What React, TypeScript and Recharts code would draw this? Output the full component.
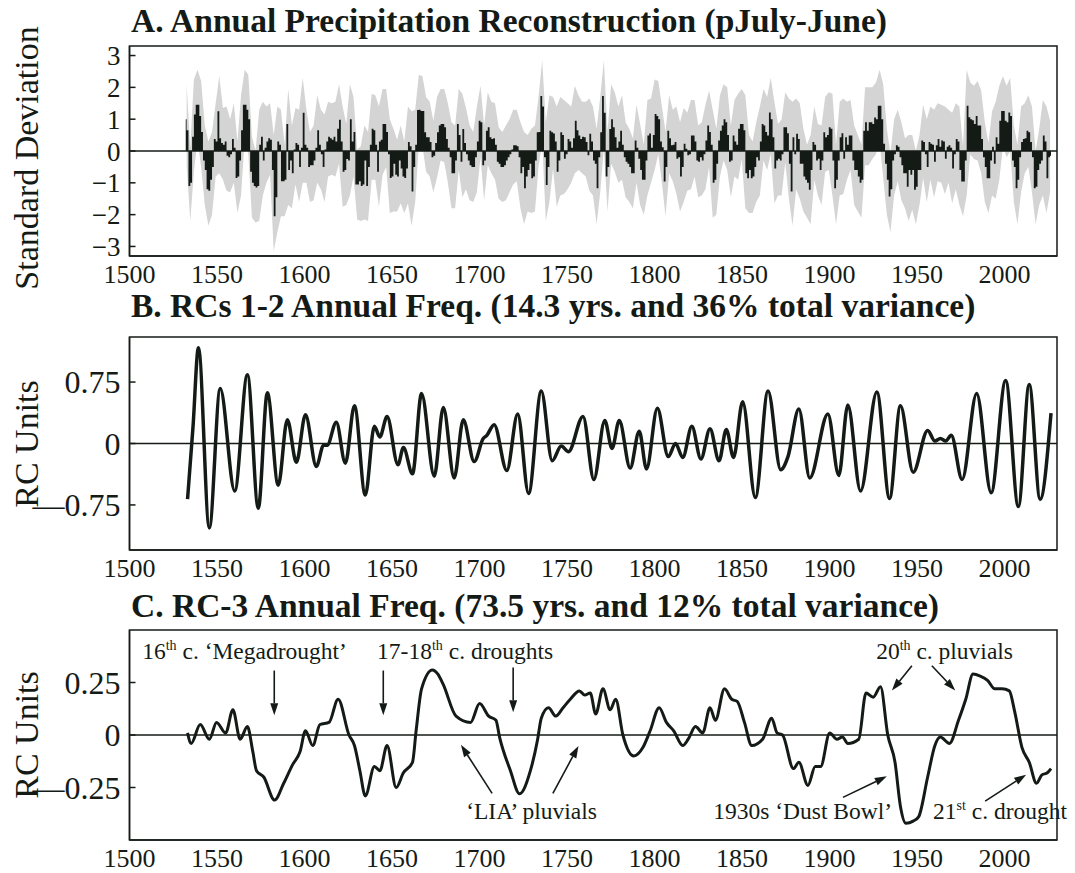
import React from 'react';
import {
  ComposedChart,
  LineChart,
  Line,
  Area,
  XAxis,
  YAxis,
  ReferenceLine,
  ReferenceArea,
  ReferenceDot,
} from 'recharts';

const INK = '#141b16';
const BAND = '#d4d4d4';
const FONT = '"Liberation Serif", "Times New Roman", serif';

const YEAR_TICKS = [1500, 1550, 1600, 1650, 1700, 1750, 1800, 1850, 1900, 1950, 2000];
// the series are drawn on this axis
const X_DOMAIN = [1500, 2011.3];
// the printed year labels sit on a slightly tighter spacing than the ticks
const LABEL_DOMAIN = [1500, 2030];

// Panel A: annual reconstruction, one value per year starting 1531
const PRECIP_START = 1531;
const PRECIP = [
  1.0, 0.65, -1.1, -1.0, 0.45, 1.15, 1.45, 1.45, 1.1, 0.6,
  -0.3, -0.6, -1.2, -1.25, -0.9, -0.5, 0.38, 0.3, 1.25, 0.4,
  0.25, 0.2, 0.3, -0.15, -0.2, -0.1, 0.38, 0.1, -0.85, -0.8,
  -0.3, 0.65, 1.45, 1.45, 1.3, 1.0, -0.65, -1.0, -1.1, -1.15,
  -1.1, 0.2, 0.45, -0.3, 0.1, 0.3, 0.4, 0.35, -0.6, -2.05,
  -1.45, 0.3, 0.2, -0.95, -0.95, -0.9, 0.85, -0.6, -0.3, -0.7,
  0.05, 0.25, 0.2, -0.5, 0.1, 1.2, 0.2, 0.1, -0.5, -0.45,
  -0.45, -0.3, 0.1, 0.65, 0.2, -0.1, -0.5, 0.05, 0.3, 0.45,
  0.4, 0.35, 0.45, 0.3, 0.7, 0.98, 0.3, -0.65, -0.6, -0.25,
  -0.3, 1.0, 0.3, 0.6, -1.05, -1.05, -0.95, -1.1, -1.05, -0.3,
  -1.1, -0.5, 0.2, 0.7, 0.65, 0.2, -0.65, 0.3, 0.35, 0.85,
  0.85, 0.6, -0.1, -0.85, -0.8, -0.4, -0.75, -0.8, -0.3, -0.55,
  -0.8, -0.85, -0.55, 0.28, 0.15, -1.27, -0.5, 0.2, 1.29, 1.3,
  1.26, 1.26, 0.59, 0.43, 0.43, 0.28, -0.2, -0.15, 0.25, 0.59,
  0.8, 0.85, 0.85, 0.75, 0.38, 0.1, -0.2, -0.7, -0.7, -0.3,
  0.85, 0.5, -0.34, 0.69, 0.25, -0.1, -0.3, -0.45, -0.5, -0.5,
  -0.2, 0.3, 0.95, 0.9, -0.45, -0.3, 0.64, 0.75, 0.43, 0.38,
  0.4, 0.2, -0.34, -0.4, -0.5, -0.5, -0.45, -0.3, -0.2, -0.1,
  0.05, 0.18, 0.18, 0.15, -0.2, -0.7, -0.5, -1.17, -0.8, -0.6,
  -0.4, -0.86, -0.8, -0.3, 0.59, 0.6, 1.73, 1.4, -0.2, -1.07,
  -0.5, 0.64, 0.59, 0.55, 0.3, -0.65, -0.3, 0.59, 0.5, -0.24,
  -0.1, 0.38, 0.3, 0.1, 0.4, 0.95, 0.65, 0.49, 0.38, 0.45,
  0.43, 0.28, -0.13, 0.54, 0.3, -0.3, -0.4, -1.17, -0.2, 0.59,
  1.73, 1.2, -0.8, -0.5, 0.69, 1.0, 0.75, 0.43, 0.1, 0.3,
  0.64, 0.2, -0.2, -0.34, -0.4, -0.5, -0.7, -0.7, 0.33, 0.1,
  -0.24, -0.6, -0.9, -0.9, -0.3, 0.49, 0.55, 0.1, 0.5, 1.16,
  1.1, 1.0, 0.3, 0.12, -0.96, -0.5, 0.64, 0.4, 0.18, 0.2,
  0.28, -0.24, -0.2, -0.8, -0.5, 0.23, 0.07, -0.13, -0.1, 0.49,
  0.49, 0.3, -0.3, -0.34, -0.2, -0.3, -0.1, 0.33, 0.8, 0.6,
  0.2, -1.0, -0.9, -0.4, 0.33, 0.64, 0.8, 1.0, 0.9, 0.5,
  -0.34, -0.3, 0.49, 0.3, 0.2, 0.7, 0.85, 0.85, 0.65, -0.7,
  -0.86, -0.6, -0.86, -0.8, -0.5, -0.2, -0.3, 0.3, 0.85, 0.8,
  0.6, 0.49, 1.21, 1.0, 0.43, -0.55, -0.3, -0.24, -0.3, -0.1,
  0.75, 0.75, 0.56, -0.4, -1.27, 0.43, -0.1, 0.54, 0.38, -0.4,
  -0.4, -0.8, -0.9, -1.0, -1.22, -0.6, 0.28, 0.2, -0.3, -0.24,
  -0.6, -0.3, 0.59, 0.43, 0.5, 0.75, 0.7, -0.3, -1.17, -0.9,
  -0.3, 0.43, 0.56, -0.24, 0.43, 0.2, 0.49, 0.49, -0.3, -0.6,
  -0.6, -0.8, -1.0, -0.9, 0.64, 0.9, 0.64, 0.9, 0.9, 0.85,
  1.05, 1.0, 1.42, 1.42, 1.0, 0.23, -0.4, -0.9, -1.43, -1.2,
  -0.3, -0.1, 0.18, 0.13, -0.2, -0.45, -0.7, -0.7, -1.12, -0.6,
  -0.75, -0.6, -1.22, -1.12, -0.6, -0.6, 0.33, 0.28, -0.1, -0.5,
  0.28, 0.23, 0.2, -0.34, 0.18, 0.38, 0.13, 0.33, 0.3, -0.24,
  0.13, 0.18, 0.1, -0.55, -0.1, 0.38, 0.3, -0.6, -0.96, -0.96,
  -0.3, 1.42, 1.06, 1.0, 0.97, 0.85, 1.1, 0.8, 0.8, 0.38,
  -0.2, -0.5, -0.86, -0.86, -0.3, 0.13, -0.4, 0.43, 0.23, 0.95,
  1.26, 1.26, 0.95, 0.9, 1.21, 1.1, -0.3, -0.5, -1.17, -0.9,
  -0.2, 0.28, 0.38, 0.4, 0.64, 0.59, 0.28, -0.2, -1.17, -1.12,
  -0.6, -0.4, -0.3, 0.49, 0.3, -0.86, -0.2, -0.15,
];

// Panel A: grey uncertainty band, read every two years starting 1531.5
const BAND_START = 1531.5;
const BAND_HI = [
  2.1, 0.1, 2.25, 2.55, 2.2, 0.8, 0.3, 0.6, 1.5, 2.35,
  1.35, 1.4, 1.0, 1.5, 0.3, 1.75, 2.55, 2.4, 0.45, 0.0,
  1.3, 1.55, 1.4, 1.5, 0.5, 1.4, 1.3, 0.2, 1.95, 0.8,
  1.35, 1.3, 2.3, 1.3, 0.6, 0.8, 1.75, 1.3, 1.15, 1.55,
  1.5, 1.55, 2.1, 1.4, 0.85, 2.1, 1.7, 0.05, 0.15, 0.8,
  0.6, 1.8, 1.75, 1.4, 1.95, 1.95, 1.0, 0.7, 0.35, 0.8,
  0.3, 1.4, 1.25, 1.3, 2.4, 2.35, 1.7, 1.55, 0.95, 1.7,
  1.95, 1.95, 1.5, 0.9, 0.8, 1.95, 1.8, 1.35, 0.8, 0.6,
  1.4, 2.05, 0.8, 1.85, 1.55, 1.5, 0.75, 0.6, 0.8, 1.0,
  1.3, 1.3, 0.9, 0.6, 0.5, 0.7, 0.8, 1.7, 2.85, 0.9,
  1.75, 1.7, 1.4, 1.7, 1.6, 1.5, 1.4, 2.05, 1.75, 1.55,
  1.55, 1.65, 1.4, 0.7, 1.7, 2.85, 0.6, 2.1, 1.85, 1.4,
  1.75, 0.9, 0.7, 0.4, 1.45, 0.85, 0.2, 1.6, 1.65, 2.25,
  2.2, 1.4, 0.6, 1.75, 1.3, 1.4, 0.9, 1.35, 1.2, 1.6,
  1.6, 0.8, 0.9, 1.45, 1.9, 1.3, 0.7, 1.75, 2.1, 2.0,
  0.8, 1.6, 1.8, 1.95, 1.75, 0.5, 0.3, 0.9, 1.4, 1.95,
  1.7, 2.3, 1.55, 0.85, 1.0, 1.85, 1.65, 1.55, 1.65, 1.5,
  0.7, 0.2, 0.5, 1.4, 0.85, 0.8, 1.7, 1.85, 1.8, 0.2,
  1.55, 1.65, 1.55, 1.6, 0.8, 0.5, 0.2, 2.0, 2.0, 2.0,
  2.15, 2.55, 2.1, 0.7, -0.1, 1.0, 1.3, 0.9, 0.4, 0.5,
  0.5, 0.0, 0.5, 1.45, 1.0, 1.4, 1.3, 1.5, 1.45, 1.4,
  1.3, 1.2, 1.5, 1.4, 0.15, 2.55, 2.15, 2.05, 2.2, 1.9,
  0.9, 0.25, 1.25, 1.55, 2.05, 2.35, 2.05, 2.3, 0.8, 0.2,
  1.4, 1.5, 1.75, 1.4, 0.0, 0.7, 1.6, 1.4, 0.95,
];
const BAND_LO = [
  -0.45, -2.2, -0.65, 0.35, -0.5, -1.7, -2.35, -2.0, -0.8, -0.7,
  -0.9, -1.25, -1.3, -1.0, -1.95, -1.4, 0.35, -0.1, -2.1, -2.25,
  -2.2, -1.4, -1.0, -0.75, -3.15, -2.55, -2.05, -2.05, -1.7, -1.8,
  -1.05, -1.6, -1.0, -1.0, -1.6, -1.55, -1.0, -1.2, -1.6, -0.8,
  -0.75, -0.8, -0.4, -1.75, -1.7, -1.4, -0.8, -2.15, -2.2, -2.15,
  -2.2, -0.9, -0.9, -1.75, -0.75, -0.5, -1.95, -1.9, -1.9, -1.65,
  -1.95, -1.65, -2.35, -1.6, 0.2, 0.15, -0.65, -0.8, -1.3, -0.85,
  -0.3, -0.35, -1.0, -1.8, -1.8, -0.6, -1.45, -1.2, -1.55, -1.6,
  -1.3, -0.2, -1.55, -0.45, -0.7, -0.9, -1.5, -1.6, -1.55, -1.3,
  -1.05, -0.95, -1.8, -2.3, -1.9, -1.95, -1.9, -0.5, 0.3, -2.2,
  -1.6, -0.55, -1.75, -1.4, -1.35, -1.2, -1.0, -0.7, -0.6, -0.7,
  -0.8, -1.25, -1.4, -2.3, -1.3, 0.1, -1.9, -0.4, -0.65, -1.0,
  -0.9, -1.45, -1.6, -1.8, -1.0, -1.7, -2.0, -1.4, -1.0, -0.6,
  -0.1, -1.0, -2.05, -0.7, -0.95, -1.35, -1.9, -1.6, -1.25, -1.2,
  -0.8, -1.45, -1.4, -1.2, -0.5, -2.1, -2.0, -0.8, -0.3, -0.6,
  -1.45, -0.8, -0.9, -0.25, -1.8, -1.95, -1.95, -1.6, -1.4, -0.3,
  -0.6, -0.1, -1.65, -1.4, -1.4, -0.35, -1.5, -2.35, -1.2, -1.5,
  -1.9, -2.1, -2.3, -0.9, -1.4, -1.7, -0.65, -0.6, -1.4, -2.3,
  -1.4, -1.35, -0.9, -0.6, -1.7, -1.9, -2.1, -0.45, -0.45, -0.25,
  -0.1, 0.3, -0.85, -2.0, -2.55, -1.4, -0.95, -1.55, -1.8, -2.2,
  -1.85, -2.3, -1.7, -0.85, -1.6, -0.9, -1.45, -0.95, -1.0, -1.35,
  -1.0, -1.65, -1.2, -1.7, -2.05, -1.4, -0.1, -0.25, -0.3, -0.7,
  -1.6, -1.95, -1.4, -1.5, -0.9, 0.15, -0.2, 0.0, -1.6, -2.3,
  -1.3, -0.7, -0.5, -1.3, -2.3, -1.7, -1.4, -1.95, -1.3,
];

// Panel B: RCs 1-2, turning points
const RC12_YEARS = [
  1532, 1535, 1538, 1544, 1550, 1558, 1565, 1571, 1576, 1582,
  1587, 1592, 1597, 1603, 1607, 1609, 1614, 1619, 1624, 1630,
  1635, 1638, 1642, 1648, 1651, 1656, 1661, 1668, 1673, 1679,
  1684, 1690, 1695, 1697, 1701, 1708, 1714, 1720, 1727, 1733,
  1738, 1742, 1750, 1756, 1762, 1766, 1770, 1776, 1781, 1785,
  1791, 1797, 1801, 1805, 1810, 1815, 1820, 1825, 1829, 1833,
  1838, 1845, 1852, 1859, 1863, 1869, 1875, 1885, 1891, 1896,
  1903, 1912, 1919, 1925, 1932, 1940, 1944, 1947, 1950, 1953,
  1959, 1967, 1975, 1983, 1990, 1996, 2002, 2008,
];
const RC12_VALUES = [
  -0.68, 0.2, 1.17, -1.03, 0.67, -0.58, 0.84, -0.79, 0.62, -0.51,
  0.29, -0.23, 0.35, -0.28, -0.02, -0.02, 0.26, -0.24, 0.46, -0.63,
  0.21, 0.08, 0.33, -0.26, -0.05, -0.37, 0.61, -0.4, 0.44, -0.42,
  0.29, -0.22, 0.06, 0.1, 0.23, -0.33, 0.36, -0.61, 0.64, -0.21,
  -0.03, -0.1, 0.33, -0.44, 0.28, -0.06, 0.28, -0.3, 0.15, -0.31,
  0.43, -0.16, 0.0, -0.17, 0.21, -0.19, 0.18, -0.21, 0.17, -0.17,
  0.51, -0.66, 0.64, -0.32, -0.16, 0.42, -0.42, 0.36, -0.39, 0.47,
  -0.58, 0.63, -0.67, 0.46, -0.35, 0.16, 0.03, 0.06, 0.03, 0.1,
  -0.44, 0.61, -0.6, 0.77, -0.77, 0.72, -0.68, 0.37,
];

// Panel C: RC-3
const RC3_YEARS = [
  1532, 1534, 1539, 1544, 1548, 1553, 1557, 1561, 1565, 1568,
  1570, 1574, 1580, 1585, 1590, 1594, 1597, 1601, 1605, 1610,
  1615, 1621, 1624, 1627, 1630, 1635, 1638, 1642, 1647, 1651,
  1656, 1658, 1661, 1667, 1670, 1673, 1680, 1688, 1693, 1698,
  1702, 1704, 1710, 1715, 1721, 1725, 1727, 1731, 1735, 1739,
  1743, 1748, 1751, 1754, 1757, 1761, 1765, 1768, 1772, 1778,
  1783, 1787, 1792, 1796, 1800, 1805, 1808, 1812, 1816, 1820,
  1823, 1828, 1832, 1835, 1839, 1843, 1849, 1854, 1857, 1860,
  1866, 1869, 1874, 1878, 1881, 1886, 1890, 1893, 1896, 1902,
  1906, 1910, 1914, 1918, 1922, 1925, 1928, 1932, 1935, 1940,
  1944, 1947, 1952, 1957, 1961, 1965, 1969, 1973, 1977, 1981,
  1985, 1988, 1992, 1996, 2000, 2003, 2006, 2008,
];
const RC3_VALUES = [
  0.01, -0.04, 0.05, -0.02, 0.06, 0.01, 0.12, -0.02, 0.04, -0.08,
  -0.17, -0.2, -0.31, -0.23, -0.14, -0.08, 0.02, -0.05, 0.05, 0.06,
  0.17, 0.0, -0.05, -0.17, -0.29, -0.15, -0.17, -0.05, -0.25, -0.18,
  -0.13, 0.02, 0.22, 0.31, 0.29, 0.24, 0.09, 0.06, 0.15, 0.09,
  0.07, -0.01, -0.17, -0.28, -0.17, -0.02, 0.08, 0.13, 0.09, 0.13,
  0.17, 0.21, 0.19, 0.2, 0.1, 0.22, 0.12, 0.17, 0.0, -0.1,
  -0.06, 0.02, 0.13, 0.06, 0.02, -0.05, -0.02, 0.04, 0.01, 0.13,
  0.07, 0.22, 0.17, 0.16, 0.06, -0.05, -0.02, 0.08, 0.01, 0.0,
  -0.16, -0.13, -0.24, -0.15, -0.15, 0.01, -0.02, -0.01, -0.04, -0.02,
  0.2, 0.18, 0.23, 0.0, -0.13, -0.34, -0.42, -0.41, -0.39, -0.2,
  -0.05, -0.01, -0.04, 0.07, 0.17, 0.29, 0.28, 0.26, 0.22, 0.22,
  0.21, 0.11, -0.06, -0.13, -0.23, -0.19, -0.18, -0.16,
];

// Panel C annotations (year, value of text baseline start)
const NOTES = [
  { year: 1507, value: 0.363, main: '16', sup: 'th', rest: ' c. \u2018Megadrought\u2019' },
  { year: 1636.5, value: 0.363, main: '17-18', sup: 'th', rest: ' c. droughts' },
  { year: 1911.6, value: 0.363, main: '20', sup: 'th', rest: ' c. pluvials' },
  { year: 1685.6, value: -0.4, main: '\u2018LIA\u2019 pluvials', sup: '', rest: '' },
  { year: 1821.8, value: -0.4, main: '1930s \u2018Dust Bowl\u2019', sup: '', rest: '' },
  { year: 1943, value: -0.4, main: '21', sup: 'st', rest: ' c. drought' },
];
const ARROWS = [
  [1579.8, 0.307, 1579.8, 0.094],
  [1639.9, 0.307, 1639.9, 0.094],
  [1711.5, 0.321, 1711.5, 0.108],
  [1699.9, -0.278, 1682.7, -0.047],
  [1733.4, -0.278, 1747.5, -0.052],
  [1893.3, -0.297, 1917.5, -0.197],
  [1931.3, 0.33, 1920.3, 0.212],
  [1942.3, 0.33, 1955.2, 0.212],
  [1971.7, -0.315, 1994.3, -0.189],
];

const precipRows = PRECIP.map((v, i) => ({ year: PRECIP_START + i, value: v }));
const bandRows = BAND_HI.map((hi, i) => ({ year: BAND_START + 2 * i, range: [BAND_LO[i], hi] }));
const rc12Rows = RC12_YEARS.map((y, i) => ({ year: y, value: RC12_VALUES[i] }));
const rc3Rows = RC3_YEARS.map((y, i) => ({ year: y, value: RC3_VALUES[i] }));

const minusA = (v: number) => String(v).replace('-', '\u2212');
const minusRC = (v: number) => String(v).replace('-', '\u2014');

const xTickFont = { fill: INK, fontSize: 26, fontFamily: FONT };
const axisStroke = { stroke: INK, strokeWidth: 1.5 };

function xAxes(labelHeight: number) {
  return [
    <XAxis
      key="x-data"
      type="number"
      dataKey="year"
      domain={X_DOMAIN}
      ticks={YEAR_TICKS}
      interval={0}
      allowDataOverflow
      height={1}
      tickSize={-6}
      tick={false}
      axisLine={axisStroke}
      tickLine={axisStroke}
    />,
    <XAxis
      key="x-labels"
      xAxisId="labels"
      type="number"
      dataKey="year"
      domain={LABEL_DOMAIN}
      ticks={YEAR_TICKS}
      interval={0}
      allowDataOverflow
      height={labelHeight}
      tickSize={0}
      tickMargin={8}
      tick={xTickFont}
      axisLine={false}
      tickLine={false}
    />,
  ];
}

function yAxis(domain: number[], ticks: number[], fmt: (v: number) => string, size: number) {
  return (
    <YAxis
      type="number"
      domain={domain}
      ticks={ticks}
      interval={0}
      allowDataOverflow
      width={60}
      tickSize={-6}
      tickMargin={15}
      tickFormatter={fmt}
      tick={{ fill: INK, fontSize: size, fontFamily: FONT }}
      axisLine={axisStroke}
      tickLine={axisStroke}
    />
  );
}

function ArrowShape(props: any) {
  const { x1, y1, x2, y2 } = props;
  const ang = Math.atan2(y2 - y1, x2 - x1);
  const len = 12;
  const half = 4;
  const bx = x2 - len * Math.cos(ang);
  const by = y2 - len * Math.sin(ang);
  const px = half * Math.sin(ang);
  const py = -half * Math.cos(ang);
  return (
    <g>
      <line x1={x1} y1={y1} x2={bx} y2={by} stroke={INK} strokeWidth={1.6} />
      <polygon points={`${x2},${y2} ${bx + px},${by + py} ${bx - px},${by - py}`} fill={INK} />
    </g>
  );
}

function noteShape(note: any) {
  return (props: any) => (
    <text x={props.cx} y={props.cy} fontFamily={FONT} fontSize={23.5} fill={INK}>
      {note.main}
      {note.sup ? (
        <tspan fontSize={14} dy={-9}>
          {note.sup}
        </tspan>
      ) : null}
      {note.rest ? <tspan dy={note.sup ? 9 : 0}>{note.rest}</tspan> : null}
    </text>
  );
}

function frame(y1: number, y2: number) {
  return (
    <ReferenceArea
      x1={X_DOMAIN[0]}
      x2={X_DOMAIN[1]}
      y1={y1}
      y2={y2}
      fill="none"
      stroke={INK}
      strokeWidth={1.5}
      ifOverflow="visible"
    />
  );
}

const titleStyle = { fontFamily: FONT, fontWeight: 700, fontSize: 33.5, fill: INK };
const labelStyle = { fontFamily: FONT, fontSize: 34, fill: INK };
const MARGIN_SIDE = { right: 18, left: 69.5 };

export default function App() {
  return (
    <div style={{ position: 'absolute', left: 0, top: 0, width: 1075, height: 873, background: '#fff' }}>
      <div style={{ position: 'absolute', left: 0, top: 0 }}>
        <ComposedChart width={1075} height={300} margin={{ top: 46, bottom: 4, ...MARGIN_SIDE }}>
          {xAxes(39)}
          {yAxis([-3.3, 3.3], [-3, -2, -1, 0, 1, 2, 3], minusA, 27)}
          <Area
            data={bandRows}
            dataKey="range"
            type="linear"
            fill={BAND}
            fillOpacity={1}
            stroke="none"
            isAnimationActive={false}
          />
          <Area
            data={precipRows}
            dataKey="value"
            type="step"
            baseValue={0}
            fill={INK}
            fillOpacity={1}
            stroke="none"
            isAnimationActive={false}
          />
          <ReferenceLine y={0} stroke={INK} strokeWidth={1.5} />
          {frame(-3.3, 3.3)}
        </ComposedChart>
      </div>

      <div style={{ position: 'absolute', left: 0, top: 300 }}>
        <LineChart width={1075} height={290} margin={{ top: 37, bottom: 0, ...MARGIN_SIDE }}>
          {xAxes(39)}
          {yAxis([-1.3, 1.3], [-0.75, 0, 0.75], minusRC, 32)}
          <ReferenceLine y={0} stroke={INK} strokeWidth={1.5} />
          <Line
            data={rc12Rows}
            dataKey="value"
            type="monotone"
            stroke={INK}
            strokeWidth={3.5}
            dot={false}
            isAnimationActive={false}
          />
          {frame(-1.3, 1.3)}
        </LineChart>
      </div>

      <div style={{ position: 'absolute', left: 0, top: 590 }}>
        <LineChart width={1075} height={283} margin={{ top: 40, bottom: 0, ...MARGIN_SIDE }}>
          {xAxes(32)}
          {yAxis([-0.5, 0.5], [-0.25, 0, 0.25], minusRC, 32)}
          <ReferenceLine y={0} stroke={INK} strokeWidth={1.5} />
          <Line
            data={rc3Rows}
            dataKey="value"
            type="monotone"
            stroke={INK}
            strokeWidth={3}
            dot={false}
            isAnimationActive={false}
          />
          {ARROWS.map((a, i) => (
            <ReferenceLine
              key={`arrow-${i}`}
              segment={[
                { x: a[0], y: a[1] },
                { x: a[2], y: a[3] },
              ]}
              shape={ArrowShape}
            />
          ))}
          {NOTES.map((n, i) => (
            <ReferenceDot key={`note-${i}`} x={n.year} y={n.value} r={0} shape={noteShape(n)} />
          ))}
          {frame(-0.5, 0.5)}
        </LineChart>
      </div>

      <svg
        width={1075}
        height={873}
        style={{ position: 'absolute', left: 0, top: 0, pointerEvents: 'none' }}
      >
        <text x={131} y={32} style={titleStyle}>
          A. Annual Precipitation Reconstruction (pJuly-June)
        </text>
        <text x={131} y={317} style={titleStyle}>
          B. RCs 1-2 Annual Freq. (14.3 yrs. and 36% total variance)
        </text>
        <text x={131} y={617} style={titleStyle}>
          C. RC-3 Annual Freq. (73.5 yrs. and 12% total variance)
        </text>
        <text
          x={26}
          y={158}
          transform="rotate(-90 26 158)"
          textAnchor="middle"
          dominantBaseline="central"
          style={labelStyle}
        >
          Standard Deviation
        </text>
        <text
          x={26}
          y={444}
          transform="rotate(-90 26 444)"
          textAnchor="middle"
          dominantBaseline="central"
          style={labelStyle}
        >
          RC Units
        </text>
        <text
          x={26}
          y={735}
          transform="rotate(-90 26 735)"
          textAnchor="middle"
          dominantBaseline="central"
          style={labelStyle}
        >
          RC Units
        </text>
      </svg>
    </div>
  );
}
